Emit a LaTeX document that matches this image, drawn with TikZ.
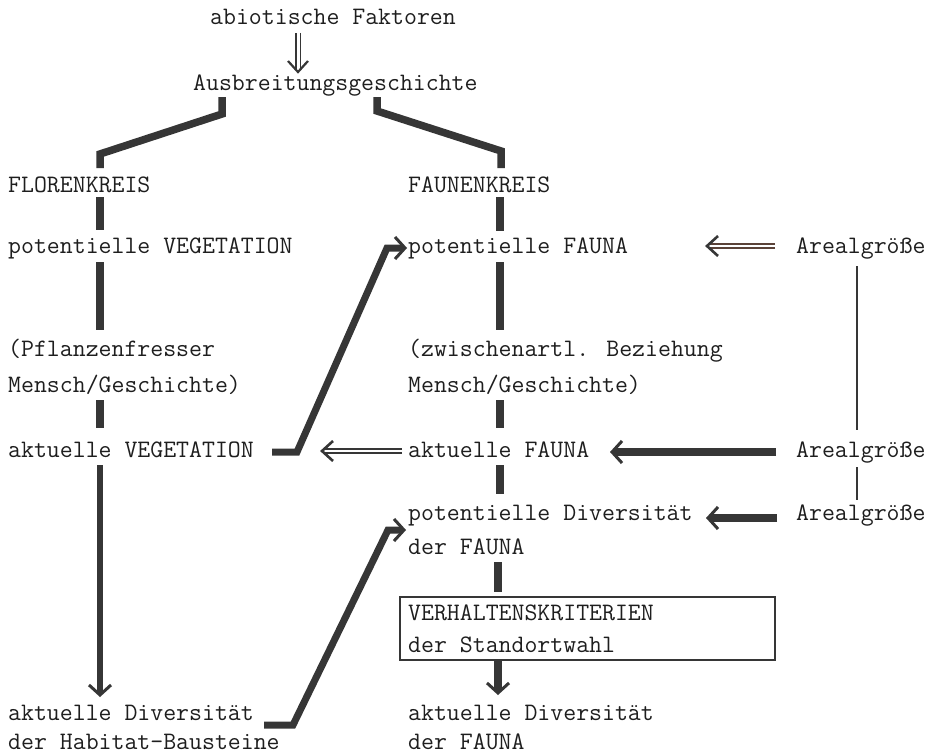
\documentclass[tikz,border=0pt]{standalone}
\usepackage{fontspec}
\usetikzlibrary{arrows.meta,calc}
\definecolor{ink}{HTML}{1E1E1E}
\definecolor{barc}{HTML}{363636}
\definecolor{brn}{HTML}{5A4238}
\begin{document}
\begin{tikzpicture}[x=1bp,y=-1bp,
 txt/.style={font=\ttfamily\fontsize{25.1bp}{28bp}\selectfont, anchor=base west, inner sep=0pt, text=ink},
 barst/.style={draw=barc, line width=7.5bp, line join=miter},
 thinst/.style={draw=barc, line width=1.6bp},
 dbl/.style={draw=barc, double=white, line width=1.8bp, double distance=2.4bp},
 chev/.style={draw=barc, line width=2.6bp, line join=miter},
 tipst/.style={-{Straight Barb[length=10bp,width=22bp,line width=3bp]}},
 boxst/.style={draw=barc, line width=1.6bp, inner sep=0pt},
]
\fill[white] (0,0) rectangle (940,754);
\useasboundingbox (0,0) rectangle (940,754);

% texts
\node[txt] (abio) at (210,25) {abiotische Faktoren};
\node[txt] (ausb) at (193,91) {Ausbreitungsgeschichte};
\node[txt] (flor) at (8,192) {FLORENKREIS};
\node[txt] (faun) at (408,192) {FAUNENKREIS};
\node[txt] (pveg) at (8,253) {potentielle VEGETATION};
\node[txt] (pfau) at (408,253) {potentielle FAUNA};
\node[txt] (arA) at (796,253) {Arealgröße};
\node[txt] (pflA) at (8,356) {(Pflanzenfresser};
\node[txt] (pflB) at (8,392) {Mensch/Geschichte)};
\node[txt] (zwA) at (408,356) {(zwischenartl. Beziehung};
\node[txt] (zwB) at (408,392) {Mensch/Geschichte)};
\node[txt] (aveg) at (8,457) {aktuelle VEGETATION};
\node[txt] (afau) at (408,457) {aktuelle FAUNA};
\node[txt] (arB) at (796,457) {Arealgröße};
\node[txt] (pdivA) at (408,520) {potentielle Diversität};
\node[txt] (pdivB) at (408,554) {der FAUNA};
\node[txt] (arC) at (796,520) {Arealgröße};
\node[boxst, minimum width=375bp, minimum height=63bp] (box) at (587.5,628.5) {};
\node[txt] (vkA) at (408,620) {VERHALTENSKRITERIEN};
\node[txt] (vkB) at (408,652) {der Standortwahl};
\node[txt] (adhA) at (8,720) {aktuelle Diversität};
\node[txt] (adhB) at (8,749) {der Habitat-Bausteine};
\node[txt] (adfA) at (408,720) {aktuelle Diversität};
\node[txt] (adfB) at (408,749) {der FAUNA};

% connector end points
\coordinate (topA) at (298,33);
\coordinate (topB) at (298,72);
\coordinate (brL) at (222,97);
\coordinate (brR) at (377,97);
\coordinate (dA) at (775,246);
\coordinate (dAt) at (707,246);
\coordinate (dB) at (402,451);
\coordinate (dBt) at (322,451);
\coordinate (boxS) at (498,661);

% top double arrow
\draw[dbl, line width=1.4bp, double distance=3bp] (topA) -- ($(topB)+(0,-3)$);
\draw[chev, line width=2.2bp] ($(topB)+(-10,-11)$) -- (topB) -- ($(topB)+(10,-11)$);

% branches
\draw[barst] (brL) -- (222,114) -- (100,154) -- (100,168);
\draw[barst] (brR) -- (377,111) -- (501,151) -- (501,168);

% vertical bars left column
\draw[barst] (100,197) -- (100,230);
\draw[barst] (100,262) -- (100,330);
\draw[barst] (100,400) -- (100,428);
\draw[barst, line width=6.5bp, tipst] (100,465) -- (100,697);

% vertical bars right column
\draw[barst] (500,197) -- (500,231);
\draw[barst] (500,262) -- (500,330);
\draw[barst] (500,400) -- (500,428);
\draw[barst] (500,465) -- (500,494);
\draw[barst] (498,562) -- (498,592);
\draw[barst, tipst] (boxS) -- (498,695);

% thin lines Arealgroesse
\draw[thinst] (857,266) -- (857,430);
\draw[thinst] (857,467) -- (857,500);

% double arrows
\draw[dbl, draw=brn] (dA) -- ($(dAt)+(3,0)$);
\draw[chev] ($(dAt)+(11,-10)$) -- (dAt) -- ($(dAt)+(11,10)$);
\draw[dbl] (dB) -- ($(dBt)+(3,0)$);
\draw[chev] ($(dBt)+(11,-10)$) -- (dBt) -- ($(dBt)+(11,10)$);

% thick arrows
\draw[barst, tipst] (776,452) -- (610,452);
\draw[barst, tipst] (777,518) -- (706,518);

% crossing connectors
\draw[barst, line width=7bp, tipst] (272,452) -- (297,452) -- (387,248) -- (407,248);
\draw[barst, line width=7bp, tipst] (264,725) -- (293,725) -- (388,530) -- (406,530);
\end{tikzpicture}
\end{document}
